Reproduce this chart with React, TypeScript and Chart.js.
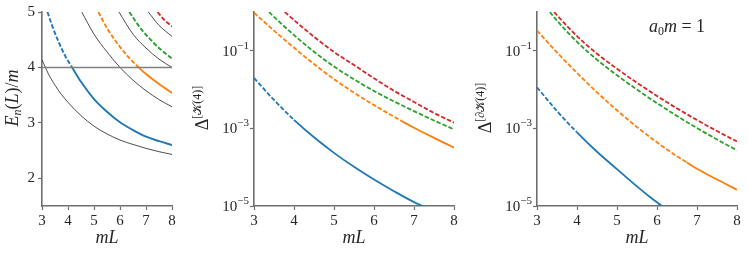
import React, { useEffect, useRef } from "react";
import { Chart, registerables } from "chart.js";

Chart.register(...registerables);

// ---------- colours & fonts ----------
const BLUE = "#1f77b4";
const ORANGE = "#ff7f0e";
const GREEN = "#2ca02c";
const RED = "#d62728";
const THIN = "#3a3a3a";
const HLINE = "#808080";
const AXIS = "#6e6e6e";
const TEXT = "#262626";
const SERIF = "'Liberation Serif', 'DejaVu Serif', serif";
const DASH = [4.5, 2];

// ---------- shared ticks ----------
const xTickValues = [3, 4, 5, 6, 7, 8];
const p1YTicks = [2, 3, 4, 5];
const logTickValues = [1e-5, 1e-3, 1e-1];
const logTickExponents = ["−5", "−3", "−1"];

// ---------- panel 1 : E_n(L)/m vs mL ----------
const p1Threshold = 4;

const p1Black0L = [3, 3.25, 3.5, 3.75, 4, 4.5, 5, 5.5, 6, 6.5, 7, 7.5, 8];
const p1Black0E = [4.14, 3.88, 3.68, 3.51, 3.37, 3.13, 2.94, 2.8, 2.69, 2.61, 2.54, 2.48, 2.43];
const p1Black1L = [4.53, 5, 5.5, 6, 6.5, 7, 7.5, 8];
const p1Black1E = [5.0, 4.6, 4.28, 4.0, 3.77, 3.58, 3.42, 3.29];
const p1Black2L = [5.96, 6.5, 7, 7.5, 8];
const p1Black2E = [5.0, 4.6, 4.35, 4.15, 4.0];
const p1Black3L = [7.09, 7.5, 8];
const p1Black3E = [5.0, 4.76, 4.56];

const p1BlueL = [3.21, 3.4, 3.63, 3.9, 4.16, 4.5, 5, 5.5, 6, 6.5, 7, 7.5, 8];
const p1BlueE = [5.0, 4.74, 4.47, 4.2, 4.0, 3.74, 3.43, 3.2, 3.01, 2.87, 2.75, 2.67, 2.6];
const p1BlueSolidFrom = 4.16;
const p1OrangeL = [5.17, 5.5, 6, 6.5, 6.72, 7, 7.5, 8];
const p1OrangeE = [5.0, 4.71, 4.37, 4.1, 4.0, 3.88, 3.7, 3.54];
const p1OrangeSolidFrom = 6.72;
const p1GreenL = [6.36, 6.8, 7.3, 7.65, 8];
const p1GreenE = [5.0, 4.7, 4.44, 4.29, 4.16];
const p1RedL = [7.44, 7.7, 8];
const p1RedE = [5.0, 4.86, 4.74];

// ---------- panel 2 : Delta^[K(4)] ----------
const p2BlueL = [3, 3.5, 4, 4.5, 5, 5.5, 6, 6.5, 7, 7.22];
const p2BlueD = [2.0e-2, 5.4e-3, 1.66e-3, 5.9e-4, 2.34e-4, 1.02e-4, 4.8e-5, 2.4e-5, 1.26e-5, 1.0e-5];
const p2BlueSolidFrom = 4;
const p2OrangeL = [3, 3.5, 4, 4.5, 5, 5.5, 6, 6.5, 6.75, 7, 7.5, 8];
const p2OrangeD = [0.955, 0.331, 0.12, 4.57e-2, 1.86e-2, 8.32e-3, 3.98e-3, 2.0e-3, 1.43e-3, 1.04e-3, 5.69e-4, 3.2e-4];
const p2OrangeSolidFrom = 6.75;
const p2GreenL = [3.375, 3.5, 4, 4.5, 5, 5.5, 6, 6.5, 7, 7.5, 8];
const p2GreenD = [1.0, 0.75, 0.254, 9.44e-2, 3.94e-2, 1.84e-2, 9.23e-3, 4.95e-3, 2.79e-3, 1.6e-3, 9.44e-4];
const p2RedL = [3.77, 4, 4.5, 5, 5.5, 6, 6.5, 7, 7.5, 8];
const p2RedD = [1.0, 0.62, 0.23, 9.3e-2, 4.3e-2, 1.95e-2, 9.3e-3, 4.8e-3, 2.5e-3, 1.41e-3];

// ---------- panel 3 : Delta^[dK(4)] ----------
const p3BlueL = [3, 3.5, 4, 4.5, 5, 5.5, 5.8, 6.12];
const p3BlueD = [1.15e-2, 2.8e-3, 7.9e-4, 2.5e-4, 8.9e-5, 3.2e-5, 1.78e-5, 1.0e-5];
const p3BlueSolidFrom = 4;
const p3OrangeL = [3, 3.5, 4, 4.5, 5, 5.5, 6, 6.5, 6.74, 7, 7.5, 8];
const p3OrangeD = [0.331, 9.12e-2, 2.69e-2, 8.51e-3, 2.92e-3, 1.08e-3, 4.37e-4, 1.91e-4, 1.35e-4, 9.1e-5, 4.8e-5, 2.63e-5];
const p3OrangeSolidFrom = 6.74;
const p3GreenL = [3.32, 3.5, 4, 4.5, 5, 5.5, 6, 6.5, 7, 7.5, 8];
const p3GreenD = [1.0, 0.6, 0.17, 5.89e-2, 2.34e-2, 1.0e-2, 4.47e-3, 2.09e-3, 1.02e-3, 5.19e-4, 2.72e-4];
const p3RedL = [3.43, 3.5, 4, 4.5, 5, 5.5, 6, 6.5, 7, 7.5, 8];
const p3RedD = [1.0, 0.824, 0.238, 8.43e-2, 3.44e-2, 1.5e-2, 6.86e-3, 3.28e-3, 1.64e-3, 8.53e-4, 4.58e-4];

// ---------- helpers ----------
// solidFrom: mL value from which the curve is drawn solid (Infinity = dashed everywhere, -Infinity = solid)
const line = (xs: number[], ys: number[], color: string, width: number, solidFrom: number) => ({
  data: xs.map((x, i) => ({ x, y: ys[i] })),
  borderColor: color,
  backgroundColor: color,
  borderWidth: width,
  borderDash: [] as number[],
  borderCapStyle: "butt" as const,
  pointRadius: 0,
  pointHoverRadius: 0,
  fill: false,
  cubicInterpolationMode: "monotone" as const,
  segment: {
    borderDash: (ctx: any) => (ctx.p0.parsed.x < solidFrom - 1e-9 ? DASH : []),
  },
});

type Part = { t: string; size: number; italic?: boolean; dy?: number };

function fontOf(p: Part) {
  return `${p.italic ? "italic " : ""}${p.size}px ${SERIF}`;
}

function measureParts(ctx: CanvasRenderingContext2D, parts: Part[]) {
  let total = 0;
  for (const p of parts) {
    ctx.font = fontOf(p);
    total += ctx.measureText(p.t).width;
  }
  return total;
}

// align: 0 = centred, 1 = right aligned
function drawParts(
  ctx: CanvasRenderingContext2D,
  x: number,
  y: number,
  parts: Part[],
  rotate: boolean,
  align = 0,
  baseline: CanvasTextBaseline = "alphabetic"
) {
  ctx.save();
  ctx.translate(x, y);
  if (rotate) ctx.rotate(-Math.PI / 2);
  ctx.textBaseline = baseline;
  ctx.textAlign = "left";
  ctx.fillStyle = TEXT;
  const total = measureParts(ctx, parts);
  let cx = align === 1 ? -total : -total / 2;
  for (const p of parts) {
    ctx.font = fontOf(p);
    ctx.fillText(p.t, cx, p.dy ?? 0);
    cx += ctx.measureText(p.t).width;
  }
  ctx.restore();
}

const gridOpts = {
  display: true,
  drawOnChartArea: false,
  drawTicks: true,
  tickLength: 4,
  tickWidth: 1.2,
  tickColor: AXIS,
};
const borderOpts = { display: true, color: AXIS, width: 1.6 };

function xScale() {
  return {
    type: "linear" as const,
    min: 3,
    max: 8,
    afterBuildTicks: (s: any) => {
      s.ticks = xTickValues.map((v) => ({ value: v }));
    },
    afterFit: (s: any) => {
      s.height = 49;
    },
    ticks: {
      font: { family: SERIF, size: 15 },
      color: TEXT,
      padding: 2,
      maxRotation: 0,
      autoSkip: false,
    },
    grid: gridOpts,
    border: borderOpts,
    title: {
      display: true,
      text: "mL",
      font: { family: SERIF, size: 18, style: "italic" as const },
      color: TEXT,
      padding: { top: 0, bottom: 6 },
    },
  };
}

function yLinear(width: number) {
  return {
    type: "linear" as const,
    min: 1.5,
    max: 5,
    afterBuildTicks: (s: any) => {
      s.ticks = p1YTicks.map((v) => ({ value: v }));
    },
    afterFit: (s: any) => {
      s.width = width;
    },
    ticks: { font: { family: SERIF, size: 15 }, color: TEXT, padding: 3, autoSkip: false },
    grid: gridOpts,
    border: borderOpts,
  };
}

// log axis: tick labels "10" + raised exponent are drawn by the logTickLabels plugin
function yLog(width: number) {
  return {
    type: "logarithmic" as const,
    min: 1e-5,
    max: 1,
    afterBuildTicks: (s: any) => {
      s.ticks = logTickValues.map((v) => ({ value: v }));
    },
    afterFit: (s: any) => {
      s.width = width;
    },
    ticks: {
      font: { family: SERIF, size: 15 },
      color: TEXT,
      padding: 2,
      autoSkip: false,
      callback: () => "",
    },
    grid: gridOpts,
    border: borderOpts,
  };
}

const logTickLabels = {
  id: "logTickLabels",
  afterDraw(chart: any) {
    const ctx: CanvasRenderingContext2D = chart.ctx;
    const y = chart.scales.y;
    const right = chart.chartArea.left - 5;
    logTickValues.forEach((v, i) => {
      const py = y.getPixelForValue(v);
      drawParts(
        ctx,
        right,
        py + 1,
        [
          { t: "10", size: 15 },
          { t: logTickExponents[i], size: 11, dy: -6 },
        ],
        false,
        1,
        "middle"
      );
    });
  },
};

function baseOptions(yScale: any, padRight: number) {
  return {
    responsive: false,
    animation: false as const,
    devicePixelRatio: 1,
    layout: { padding: { top: 12, right: padRight, left: 0, bottom: 0 } },
    plugins: { legend: { display: false }, tooltip: { enabled: false } },
    events: [] as any[],
    scales: { x: xScale(), y: yScale },
  };
}

const labelPlugin = (id: string, draw: (ctx: CanvasRenderingContext2D) => void) => ({
  id,
  afterDraw(chart: any) {
    draw(chart.ctx);
  },
});

// ---------- panel configs ----------
function config1() {
  return {
    type: "line" as const,
    data: {
      datasets: [
        line([3, 8], [p1Threshold, p1Threshold], HLINE, 1.6, -Infinity),
        line(p1Black0L, p1Black0E, THIN, 0.9, -Infinity),
        line(p1Black1L, p1Black1E, THIN, 0.9, -Infinity),
        line(p1Black2L, p1Black2E, THIN, 0.9, -Infinity),
        line(p1Black3L, p1Black3E, THIN, 0.9, -Infinity),
        line(p1BlueL, p1BlueE, BLUE, 1.9, p1BlueSolidFrom),
        line(p1OrangeL, p1OrangeE, ORANGE, 1.9, p1OrangeSolidFrom),
        line(p1GreenL, p1GreenE, GREEN, 1.9, Infinity),
        line(p1RedL, p1RedE, RED, 1.9, Infinity),
      ],
    },
    options: baseOptions(yLinear(42), 13),
    plugins: [
      labelPlugin("ylab1", (ctx) =>
        drawParts(
          ctx,
          18,
          98,
          [
            { t: "E", size: 18, italic: true },
            { t: "n", size: 12, italic: true, dy: 3 },
            { t: "(", size: 18 },
            { t: "L", size: 18, italic: true },
            { t: ")/", size: 18 },
            { t: "m", size: 18, italic: true },
          ],
          true
        )
      ),
    ],
  };
}

function config2() {
  return {
    type: "line" as const,
    data: {
      datasets: [
        line(p2BlueL, p2BlueD, BLUE, 1.8, p2BlueSolidFrom),
        line(p2OrangeL, p2OrangeD, ORANGE, 1.8, p2OrangeSolidFrom),
        line(p2GreenL, p2GreenD, GREEN, 1.8, Infinity),
        line(p2RedL, p2RedD, RED, 1.8, Infinity),
      ],
    },
    options: baseOptions(yLog(69), 16),
    plugins: [
      logTickLabels,
      labelPlugin("ylab2", (ctx) =>
        drawParts(
          ctx,
          23,
          108,
          [
            { t: "Δ", size: 18 },
            { t: "[𝒦(4)]", size: 12, dy: -7 },
          ],
          true
        )
      ),
    ],
  };
}

function config3() {
  return {
    type: "line" as const,
    data: {
      datasets: [
        line(p3BlueL, p3BlueD, BLUE, 1.8, p3BlueSolidFrom),
        line(p3OrangeL, p3OrangeD, ORANGE, 1.8, p3OrangeSolidFrom),
        line(p3GreenL, p3GreenD, GREEN, 1.8, Infinity),
        line(p3RedL, p3RedD, RED, 1.8, Infinity),
      ],
    },
    options: baseOptions(yLog(67), 11),
    plugins: [
      logTickLabels,
      labelPlugin("ylab3", (ctx) =>
        drawParts(
          ctx,
          21,
          108,
          [
            { t: "Δ", size: 18 },
            { t: "[∂𝒦(4)]", size: 12, dy: -7 },
          ],
          true
        )
      ),
      labelPlugin("annot3", (ctx) =>
        drawParts(
          ctx,
          207,
          32,
          [
            { t: "a", size: 18, italic: true },
            { t: "0", size: 12, dy: 3 },
            { t: "m", size: 18, italic: true },
            { t: " = 1", size: 18 },
          ],
          false
        )
      ),
    ],
  };
}

function ChartCanvas({ left, width, make }: { left: number; width: number; make: () => any }) {
  const ref = useRef<HTMLCanvasElement>(null);
  useEffect(() => {
    if (!ref.current) return;
    const chart = new Chart(ref.current, make());
    return () => chart.destroy();
  }, []);
  return (
    <canvas
      ref={ref}
      width={width}
      height={255}
      style={{ position: "absolute", left, top: 0, width, height: 255, display: "block" }}
    />
  );
}

export default function App() {
  return (
    <div
      style={{
        position: "absolute",
        left: 0,
        top: 0,
        width: 748,
        height: 255,
        background: "#fff",
        overflow: "hidden",
      }}
    >
      <ChartCanvas left={0} width={185} make={config1} />
      <ChartCanvas left={185} width={285} make={config2} />
      <ChartCanvas left={470} width={278} make={config3} />
    </div>
  );
}
